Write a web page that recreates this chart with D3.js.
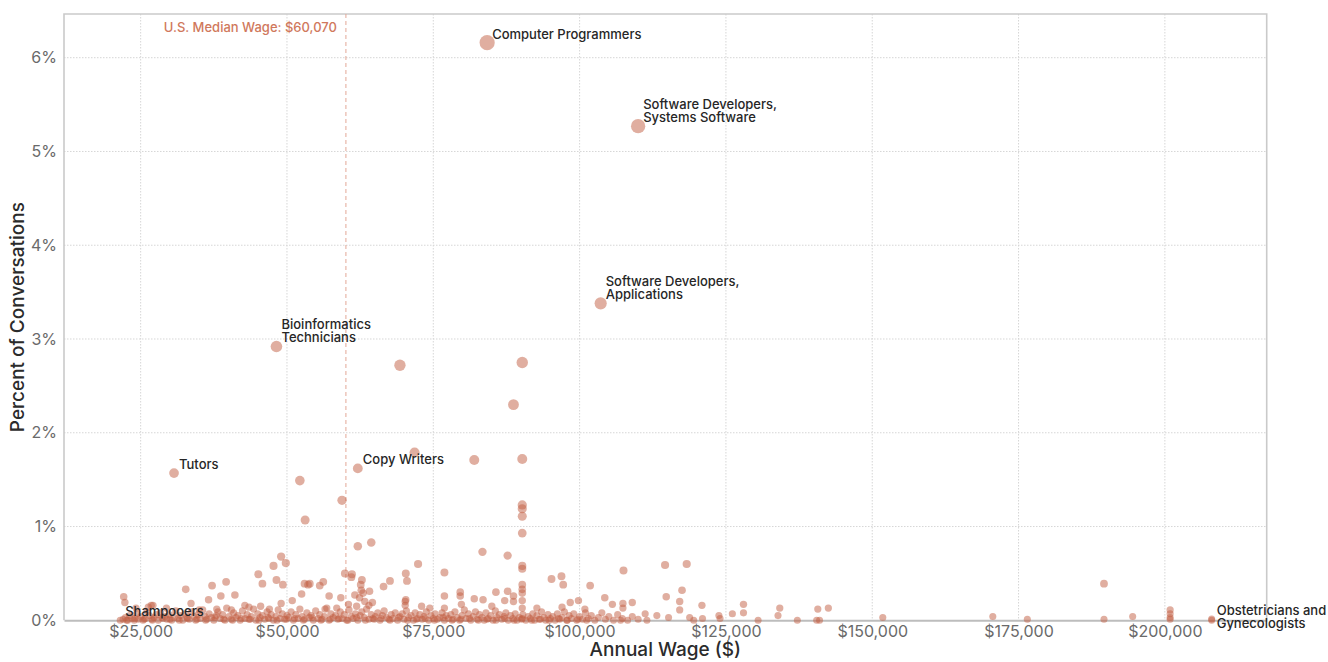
<!DOCTYPE html>
<html>
<head>
<meta charset="utf-8">
<script src="https://cdn.jsdelivr.net/npm/d3@7"></script>
<style>
  html, body { margin: 0; padding: 0; background: #fff; }
  svg { display: block; font-family: Inter, "Noto Sans", sans-serif; }
</style>
</head>
<body>
<script>
// labelled occupations: wage in $K, share of conversations in %
const labelNames = [
  "Computer Programmers",
  "Software Developers,\nSystems Software",
  "Software Developers,\nApplications",
  "Bioinformatics\nTechnicians",
  "Copy Writers",
  "Tutors",
  "Shampooers",
  "Obstetricians and\nGynecologists"
];
const labelWages = [84.2, 110.0, 103.6, 48.2, 62.1, 30.7, 21.5, 208.0];
const labelShares = [6.16, 5.27, 3.38, 2.92, 1.62, 1.57, 0.0, 0.015];

// the rest of the occupations, [wage $K, share %]
const otherPoints = [
  [69.3, 2.72], [90.2, 2.75], [88.7, 2.30], [71.8, 1.79], [82.0, 1.71], [90.2, 1.72],
  [52.2, 1.49], [59.4, 1.28], [53.1, 1.07], [90.2, 1.23], [90.2, 1.19], [90.2, 1.11],
  [90.2, 0.93], [62.1, 0.79], [64.4, 0.83], [49.0, 0.68], [49.8, 0.61], [47.7, 0.58],
  [72.4, 0.60], [83.4, 0.73], [87.7, 0.69], [90.2, 0.58], [90.2, 0.55], [76.9, 0.51],
  [70.3, 0.50], [59.9, 0.50], [61.1, 0.49], [61.0, 0.46], [45.1, 0.49], [114.6, 0.59],
  [118.3, 0.60], [107.5, 0.53], [96.9, 0.47], [95.2, 0.44], [189.6, 0.39],
  [70.5, 0.42], [67.6, 0.42], [62.8, 0.43], [48.2, 0.43], [39.6, 0.41], [56.2, 0.41],
  [55.6, 0.37], [53.9, 0.39], [53.0, 0.39], [53.6, 0.38], [45.8, 0.39], [49.3, 0.38],
  [62.6, 0.38], [37.2, 0.37], [32.7, 0.33], [62.7, 0.32], [63.0, 0.29], [64.1, 0.31],
  [66.5, 0.36], [90.2, 0.38], [90.2, 0.33], [90.2, 0.29], [97.2, 0.38], [101.8, 0.37],
  [117.5, 0.32], [87.7, 0.31], [85.7, 0.30], [79.6, 0.30], [79.6, 0.26], [76.9, 0.26],
  [88.7, 0.26], [57.2, 0.26], [59.2, 0.24], [52.5, 0.28], [41.1, 0.27], [38.7, 0.26],
  [22.1, 0.25], [22.3, 0.19], [114.8, 0.25], [104.3, 0.24], [83.5, 0.22], [82.0, 0.23],
  [70.2, 0.20], [70.3, 0.22], [36.6, 0.22], [50.9, 0.21], [99.8, 0.21], [90.2, 0.21],
  [88.7, 0.20], [87.2, 0.21], [98.4, 0.19], [109.0, 0.19], [105.6, 0.17], [128.0, 0.17],
  [117.1, 0.20], [33.6, 0.18], [26.8, 0.16], [27.1, 0.16], [42.8, 0.16], [120.9, 0.16],
  [107.4, 0.18], [24.2, 0.13], [26.3, 0.14], [29.4, 0.13], [140.7, 0.12], [142.5, 0.13],
  [134.2, 0.13], [200.9, 0.11], [92.7, 0.13], [90.2, 0.13], [97.0, 0.14], [100.9, 0.12],
  [107.4, 0.13], [117.1, 0.11], [74.4, 0.13], [76.9, 0.13], [70.2, 0.16], [45.5, 0.15],
  [43.5, 0.14], [61.9, 0.15], [64.0, 0.16], [60.5, 0.17], [58.5, 0.13], [56.5, 0.12],
  [47.0, 0.12], [49.0, 0.18], [38.0, 0.12], [40.5, 0.11], [35.0, 0.11], [63.3, 0.20],
  [62.4, 0.24], [61.6, 0.27], [64.6, 0.19], [73.0, 0.15], [79.8, 0.17], [85.0, 0.15],
  // dense band along the bottom
  [22.0, 0.01], [22.4, 0.03], [22.8, 0.00], [23.1, 0.05], [23.5, 0.02], [23.9, 0.00],
  [24.3, 0.07], [24.6, 0.01], [25.0, 0.04], [25.4, 0.00], [25.8, 0.02], [26.1, 0.09],
  [26.5, 0.05], [26.9, 0.01], [27.3, 0.03], [27.7, 0.06], [28.0, 0.00], [28.4, 0.08],
  [28.8, 0.02], [29.2, 0.04], [29.5, 0.01], [29.9, 0.06], [30.3, 0.00], [30.7, 0.03],
  [31.0, 0.10], [31.4, 0.02], [31.8, 0.05], [32.2, 0.00], [32.6, 0.07], [32.9, 0.03],
  [33.3, 0.01], [33.7, 0.09], [34.1, 0.04], [34.4, 0.00], [34.8, 0.06], [35.2, 0.02],
  [35.6, 0.11], [36.0, 0.04], [36.3, 0.01], [36.7, 0.07], [37.1, 0.03], [37.5, 0.00],
  [37.9, 0.05], [38.2, 0.09], [38.6, 0.02], [39.0, 0.06], [39.4, 0.00], [39.7, 0.13],
  [40.1, 0.04], [40.5, 0.01], [40.9, 0.08], [41.3, 0.03], [41.6, 0.05], [42.0, 0.00],
  [42.4, 0.10], [42.8, 0.02], [43.2, 0.06], [43.5, 0.01], [43.9, 0.04], [44.3, 0.12],
  [44.7, 0.00], [45.0, 0.07], [45.4, 0.03], [45.8, 0.05], [46.2, 0.01], [46.6, 0.09],
  [46.9, 0.02], [47.3, 0.06], [47.7, 0.00], [48.1, 0.04], [48.5, 0.11], [48.8, 0.02],
  [49.2, 0.07], [49.6, 0.01], [50.0, 0.05], [50.3, 0.03], [50.7, 0.09], [51.1, 0.00],
  [51.5, 0.06], [51.9, 0.02], [52.2, 0.12], [52.6, 0.04], [53.0, 0.01], [53.4, 0.08],
  [53.8, 0.03], [54.1, 0.05], [54.5, 0.00], [54.9, 0.10], [55.3, 0.02], [55.6, 0.06],
  [56.0, 0.01], [56.4, 0.04], [56.8, 0.13], [57.2, 0.00], [57.5, 0.07], [57.9, 0.03],
  [58.3, 0.05], [58.7, 0.01], [59.1, 0.09], [59.4, 0.02], [59.8, 0.06], [60.2, 0.00],
  [60.6, 0.11], [61.0, 0.04], [61.3, 0.02], [61.7, 0.07], [62.1, 0.00], [62.5, 0.05],
  [62.8, 0.09], [63.2, 0.03], [63.6, 0.12], [64.0, 0.01], [64.4, 0.06], [64.7, 0.02],
  [65.1, 0.04], [65.5, 0.08], [65.9, 0.00], [66.3, 0.05], [66.6, 0.10], [67.0, 0.03],
  [67.4, 0.01], [67.8, 0.06], [68.1, 0.02], [68.5, 0.08], [68.9, 0.00], [69.3, 0.04],
  [69.7, 0.07], [70.0, 0.01], [70.4, 0.10], [70.8, 0.03], [71.2, 0.05], [71.6, 0.00],
  [71.9, 0.08], [72.3, 0.02], [72.7, 0.06], [73.1, 0.01], [73.4, 0.04], [73.8, 0.09],
  [74.2, 0.00], [74.6, 0.05], [75.0, 0.02], [75.3, 0.07], [75.7, 0.01], [76.1, 0.03],
  [76.5, 0.08], [76.9, 0.00], [77.2, 0.05], [77.6, 0.02], [78.0, 0.06], [78.4, 0.01],
  [78.7, 0.09], [79.1, 0.03], [79.5, 0.00], [79.9, 0.05], [80.3, 0.11], [80.6, 0.02],
  [81.0, 0.07], [81.4, 0.00], [81.8, 0.04], [82.2, 0.09], [82.5, 0.01], [82.9, 0.06],
  [83.3, 0.03], [83.7, 0.00], [84.0, 0.08], [84.4, 0.02], [84.8, 0.05], [85.2, 0.00],
  [85.6, 0.10], [85.9, 0.03], [86.3, 0.06], [86.7, 0.01], [87.1, 0.04], [87.4, 0.08],
  [87.8, 0.00], [88.2, 0.05], [88.6, 0.02], [89.0, 0.07], [89.3, 0.00], [89.7, 0.03],
  [90.1, 0.01], [90.3, 0.06], [90.8, 0.00], [91.2, 0.04], [91.6, 0.02], [92.0, 0.07],
  [92.3, 0.00], [92.7, 0.05], [93.1, 0.01], [93.5, 0.09], [93.9, 0.03], [94.2, 0.00],
  [94.6, 0.06], [95.0, 0.02], [95.4, 0.04], [95.8, 0.00], [96.2, 0.07], [96.6, 0.01],
  [97.0, 0.03], [97.4, 0.09], [97.8, 0.00], [98.2, 0.05], [98.6, 0.02], [99.0, 0.07],
  [99.5, 0.00], [100.0, 0.04], [100.5, 0.01], [101.0, 0.08], [101.5, 0.02], [102.0, 0.05],
  [102.6, 0.00], [103.2, 0.03], [103.8, 0.08], [104.4, 0.01], [105.0, 0.04], [105.8, 0.00],
  [106.5, 0.06], [107.3, 0.02], [108.2, 0.00], [109.0, 0.04], [110.0, 0.01], [111.2, 0.07],
  [111.5, 0.00], [113.2, 0.05], [115.2, 0.03], [118.8, 0.03], [119.5, 0.00], [121.0, 0.02],
  [123.8, 0.05], [124.0, 0.02], [126.1, 0.07], [128.0, 0.08], [130.5, 0.00], [133.9, 0.05],
  [137.2, 0.00], [140.5, 0.00], [141.0, 0.00], [151.8, 0.03], [170.6, 0.04], [176.5, 0.01],
  [189.6, 0.01], [194.5, 0.04], [200.9, 0.07], [200.9, 0.03], [200.9, 0.01], [208.0, 0.00],
  // second pass of tiny shares, stacked on the baseline
  [22.6, 0.00], [24.0, 0.02], [25.6, 0.01], [27.0, 0.00], [28.6, 0.03], [30.0, 0.01],
  [31.6, 0.00], [33.0, 0.02], [34.6, 0.01], [36.1, 0.00], [37.7, 0.03], [39.2, 0.01],
  [40.7, 0.00], [42.2, 0.02], [43.7, 0.01], [45.2, 0.00], [46.8, 0.03], [48.3, 0.00],
  [49.9, 0.01], [51.3, 0.02], [52.8, 0.00], [54.3, 0.03], [55.8, 0.00], [57.4, 0.01],
  [58.9, 0.02], [60.4, 0.00], [61.9, 0.03], [63.4, 0.00], [64.9, 0.01], [66.1, 0.02],
  [67.6, 0.00], [69.1, 0.03], [70.6, 0.00], [72.1, 0.01], [73.6, 0.02], [75.2, 0.00],
  [76.7, 0.03], [78.2, 0.00], [79.7, 0.01], [81.2, 0.02], [82.7, 0.00], [84.2, 0.01],
  [85.7, 0.00], [87.2, 0.02], [88.8, 0.00], [90.2, 0.02], [91.8, 0.00], [93.3, 0.01],
  [94.8, 0.00], [96.4, 0.02], [97.9, 0.00], [99.7, 0.01], [101.2, 0.00], [107.0, 0.00]
];

const xTicks = [25000, 50000, 75000, 100000, 125000, 150000, 175000, 200000];
const yTicks = [0, 1, 2, 3, 4, 5, 6];
const medianWage = 60070;

const width = 1328, height = 662;
const margin = {top: 14, right: 61.3, bottom: 41.7, left: 64};

const x = d3.scaleLinear()
    .domain([11900, 217400])
    .range([margin.left, width - margin.right]);

const y = d3.scaleLinear()
    .domain([0, 6.466])
    .range([height - margin.bottom, margin.top]);

const r = d3.scaleRadial()
    .domain([0, 6.2])
    .range([3.5, 7.6]);

const svg = d3.select("body").append("svg")
    .attr("width", width)
    .attr("height", height);

// grid
svg.append("g")
  .selectAll("line")
  .data(xTicks)
  .join("line")
    .attr("x1", d => x(d)).attr("x2", d => x(d))
    .attr("y1", margin.top).attr("y2", height - margin.bottom)
    .attr("stroke", "#d6d6d6")
    .attr("stroke-dasharray", "1.5,1.5");

svg.append("g")
  .selectAll("line")
  .data(yTicks.slice(1))
  .join("line")
    .attr("x1", margin.left).attr("x2", width - margin.right)
    .attr("y1", d => y(d)).attr("y2", d => y(d))
    .attr("stroke", "#d6d6d6")
    .attr("stroke-dasharray", "1.5,1.5");

// frame
svg.append("path")
    .attr("d", `M${margin.left},${height - margin.bottom}V${margin.top}H${width - margin.right}V${height - margin.bottom}`)
    .attr("fill", "none")
    .attr("stroke", "#cacaca")
    .attr("stroke-width", 1.6);

// median wage rule
svg.append("line")
    .attr("x1", x(medianWage)).attr("x2", x(medianWage))
    .attr("y1", margin.top).attr("y2", height - margin.bottom)
    .attr("stroke", "#e3a896")
    .attr("stroke-dasharray", "4,3");

svg.append("text")
    .attr("x", x(medianWage) - 9)
    .attr("y", 31.5)
    .attr("text-anchor", "end")
    .attr("fill", "#d0785c")
    .attr("font-size", 13)
    .attr("font-weight", 500)
    .text("U.S. Median Wage: $60,070");

// axes
svg.append("g")
    .attr("transform", `translate(0,${height - margin.bottom})`)
    .call(d3.axisBottom(x).tickValues(xTicks).tickSize(0).tickPadding(5)
      .tickFormat(d => "$" + d3.format(",")(d)))
    .call(g => g.select(".domain").attr("stroke", "#bdbdbd").attr("stroke-width", 2))
    .call(g => g.selectAll("text").attr("fill", "#6a6a6a").attr("font-size", 16)
      .attr("font-family", "Inter, sans-serif"));

svg.append("g")
    .attr("transform", `translate(${margin.left},0)`)
    .call(d3.axisLeft(y).tickValues(yTicks).tickSize(0).tickPadding(7)
      .tickFormat(d => d + "%"))
    .call(g => g.select(".domain").remove())
    .call(g => g.selectAll("text").attr("fill", "#6a6a6a").attr("font-size", 16)
      .attr("font-family", "Inter, sans-serif"));

svg.append("text")
    .attr("x", (margin.left + width - margin.right) / 2)
    .attr("y", 656)
    .attr("text-anchor", "middle")
    .attr("fill", "#2b2b2b")
    .attr("font-size", 19)
    .attr("font-weight", 500)
    .text("Annual Wage ($)");

svg.append("text")
    .attr("transform", `translate(24,${(margin.top + height - margin.bottom) / 2}) rotate(-90)`)
    .attr("text-anchor", "middle")
    .attr("fill", "#2b2b2b")
    .attr("font-size", 19)
    .attr("font-weight", 500)
    .text("Percent of Conversations");

// points
const points = otherPoints.map(([w, s]) => ({wage: w * 1000, share: s}))
  .concat(labelNames.map((name, i) => ({wage: labelWages[i] * 1000, share: labelShares[i], name})));

svg.append("g")
  .selectAll("circle")
  .data(points.sort((a, b) => a.share - b.share))
  .join("circle")
    .attr("cx", d => x(d.wage))
    .attr("cy", d => y(d.share))
    .attr("r", d => r(d.share))
    .attr("fill", "#c25d42")
    .attr("fill-opacity", 0.5);

// labels
const lineH = 13.5;
const labels = svg.append("g")
    .attr("fill", "#262626")
    .attr("font-size", 13)
    .attr("font-weight", 500)
  .selectAll("text")
  .data(labelNames.map((name, i) => ({lines: name.split("\n"), wage: labelWages[i] * 1000, share: labelShares[i]})))
  .join("text")
    .attr("x", d => x(d.wage) + 5)
    .attr("y", d => {
      const cy = y(d.share) - 4;
      // points sitting on the baseline get their extra lines below
      return d.share < 0.05 ? cy : cy - (d.lines.length - 1) * lineH;
    });

labels.selectAll("tspan")
  .data(d => d.lines)
  .join("tspan")
    .attr("x", function() { return this.parentNode.getAttribute("x"); })
    .attr("dy", (d, i) => i ? lineH : 0)
    .text(d => d);
</script>
</body>
</html>
